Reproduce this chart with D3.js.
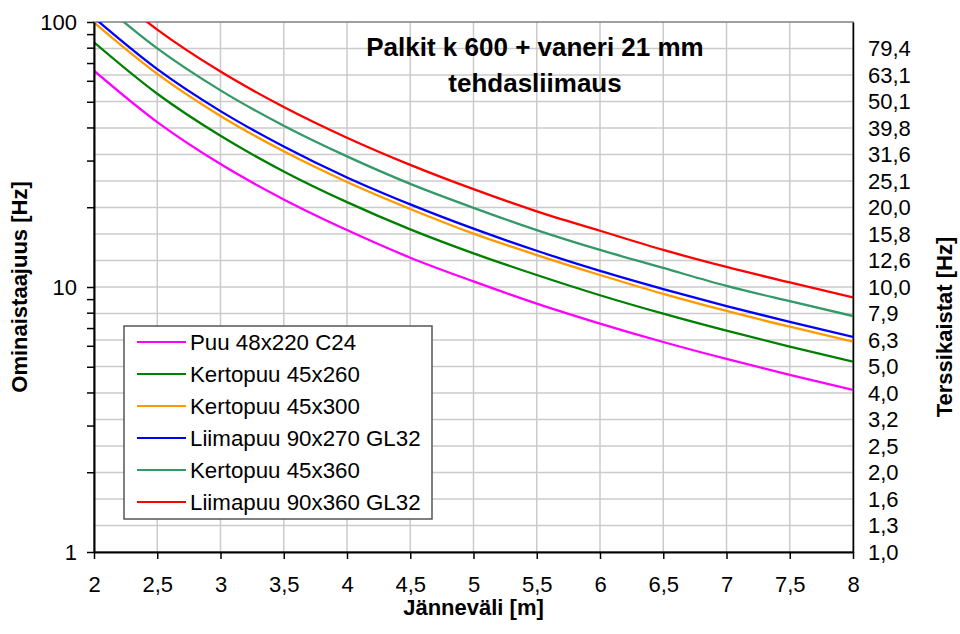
<!DOCTYPE html>
<html>
<head>
<meta charset="utf-8">
<script src="https://cdn.jsdelivr.net/npm/d3@7"></script>
<style>
  html, body { margin: 0; padding: 0; background: #fff; }
  svg { display: block; font-family: "Liberation Sans", Arial, sans-serif; }
</style>
</head>
<body>
<svg id="chart" width="960" height="634"></svg>
<script>
// Span (m) at which each frequency was read
const spans = [2, 2.5, 3, 3.5, 4, 4.5, 5, 5.5, 6, 6.5, 7, 7.5, 8];

// Natural frequencies (Hz) per beam type
const puu48x220 = [65.5, 41.9, 29.1, 21.4, 16.4, 12.9, 10.5, 8.66, 7.28, 6.20, 5.35, 4.66, 4.09];
const kerto45x260 = [83.8, 53.6, 37.2, 27.3, 20.9, 16.5, 13.4, 11.1, 9.31, 7.93, 6.84, 5.96, 5.23];
const kerto45x300 = [99.5, 63.7, 44.2, 32.5, 24.9, 19.7, 15.9, 13.2, 11.1, 9.42, 8.12, 7.08, 6.22];
const liima90x270 = [103.8, 66.4, 46.1, 33.9, 25.9, 20.5, 16.6, 13.7, 11.5, 9.82, 8.47, 7.38, 6.48];
const kerto45x360 = [124.3, 79.5, 55.2, 40.6, 31.1, 24.5, 19.9, 16.4, 13.8, 11.8, 10.1, 8.84, 7.77];
const liima90x360 = [146.3, 93.6, 65.0, 47.8, 36.6, 28.9, 23.4, 19.3, 16.3, 13.8, 11.9, 10.4, 9.14];

const seriesNames = ["Puu 48x220 C24", "Kertopuu 45x260", "Kertopuu 45x300",
                     "Liimapuu 90x270 GL32", "Kertopuu 45x360", "Liimapuu 90x360 GL32"];
const seriesValues = [puu48x220, kerto45x260, kerto45x300, liima90x270, kerto45x360, liima90x360];
const seriesColors = ["#ff00ff", "#008000", "#ff9900", "#0000ff", "#339966", "#ff0000"];

// Axis ticks
const xTicks = [2, 2.5, 3, 3.5, 4, 4.5, 5, 5.5, 6, 6.5, 7, 7.5, 8];
const xTickLabels = ["2", "2,5", "3", "3,5", "4", "4,5", "5", "5,5", "6", "6,5", "7", "7,5", "8"];
const leftTicks = [1, 2, 3, 4, 5, 6, 7, 8, 9, 10, 20, 30, 40, 50, 60, 70, 80, 90, 100];
const leftLabelled = [1, 10, 100];
// One-third octave band centre frequencies
const bandValues = [1.0, 1.259, 1.585, 1.995, 2.512, 3.162, 3.981, 5.012, 6.310, 7.943,
                    10.0, 12.59, 15.85, 19.95, 25.12, 31.62, 39.81, 50.12, 63.10, 79.43];
const bandLabels = ["1,0", "1,3", "1,6", "2,0", "2,5", "3,2", "4,0", "5,0", "6,3", "7,9",
                    "10,0", "12,6", "15,8", "20,0", "25,1", "31,6", "39,8", "50,1", "63,1", "79,4"];

const svg = d3.select("#chart");
const plotL = 94, plotR = 853, plotT = 22, plotB = 552;

const x = d3.scaleLinear().domain([2, 8]).range([plotL, plotR]);
const y = d3.scaleLog().domain([1, 100]).range([plotB, plotT]);

// Grid
const grid = svg.append("g").attr("stroke", "#cbcbcb").attr("stroke-width", 1.5);
grid.selectAll("line.h").data(bandValues.slice(1)).join("line").attr("class", "h")
  .attr("x1", plotL).attr("x2", plotR)
  .attr("y1", d => y(d)).attr("y2", d => y(d));
grid.selectAll("line.v").data(xTicks.slice(1, -1)).join("line").attr("class", "v")
  .attr("y1", plotT).attr("y2", plotB)
  .attr("x1", d => x(d)).attr("x2", d => x(d));

// Plot frame
svg.append("rect").attr("x", plotL).attr("y", plotT)
  .attr("width", plotR - plotL).attr("height", plotB - plotT)
  .attr("fill", "none").attr("stroke", "#808080").attr("stroke-width", 1.5);

// Curves
svg.append("clipPath").attr("id", "plotclip").append("rect")
  .attr("x", plotL).attr("y", plotT).attr("width", plotR - plotL).attr("height", plotB - plotT);

const line = d3.line()
  .x((d, i) => x(spans[i]))
  .y(d => y(d))
  .curve(d3.curveMonotoneX);

svg.append("g").attr("clip-path", "url(#plotclip)")
  .selectAll("path").data(seriesValues).join("path")
  .attr("d", d => line(d))
  .attr("fill", "none")
  .attr("stroke", (d, i) => seriesColors[i])
  .attr("stroke-width", 2.3);

// Axes
const tickFont = 22;
const xAxis = svg.append("g").attr("transform", `translate(0,${plotB})`)
  .call(d3.axisBottom(x).tickValues(xTicks).tickSize(7).tickSizeOuter(0)
    .tickFormat((d, i) => xTickLabels[i]));
xAxis.select(".domain").attr("stroke", "#000").attr("stroke-width", 2);
xAxis.selectAll(".tick line").attr("stroke", "#000").attr("stroke-width", 1.5);
xAxis.selectAll(".tick text").attr("font-size", tickFont).attr("font-family", "Liberation Sans, Arial")
  .attr("fill", "#000").attr("y", 40).attr("dy", 0);

const yAxis = svg.append("g").attr("transform", `translate(${plotL},0)`)
  .call(d3.axisLeft(y).tickValues(leftTicks).tickSize(7).tickSizeOuter(0)
    .tickFormat(d => leftLabelled.includes(d) ? String(d) : ""));
yAxis.select(".domain").attr("stroke", "#000").attr("stroke-width", 2);
yAxis.selectAll(".tick line").attr("stroke", "#000").attr("stroke-width", 1.5);
yAxis.selectAll(".tick text").attr("font-size", tickFont).attr("font-family", "Liberation Sans, Arial")
  .attr("fill", "#000").attr("x", -17);

const rAxis = svg.append("g").attr("transform", `translate(${plotR},0)`)
  .call(d3.axisRight(y).tickValues(bandValues).tickSize(0).tickPadding(15).tickSizeOuter(0)
    .tickFormat((d, i) => bandLabels[i]));
rAxis.select(".domain").attr("stroke", "#000").attr("stroke-width", 1.5);
rAxis.selectAll(".tick text").attr("font-size", tickFont).attr("font-family", "Liberation Sans, Arial")
  .attr("fill", "#000");

// Axis titles
svg.append("text").attr("x", (plotL + plotR) / 2).attr("y", 615)
  .attr("text-anchor", "middle").attr("font-size", 22).attr("font-weight", "bold")
  .text("Jänneväli [m]");
svg.append("text").attr("transform", `translate(27,${(plotT + plotB) / 2}) rotate(-90)`)
  .attr("text-anchor", "middle").attr("font-size", 22).attr("font-weight", "bold")
  .text("Ominaistaajuus [Hz]");
svg.append("text").attr("transform", `translate(952,327) rotate(-90)`)
  .attr("text-anchor", "middle").attr("font-size", 22).attr("font-weight", "bold")
  .text("Terssikaistat [Hz]");

// Chart title
const title = svg.append("text").attr("text-anchor", "middle")
  .attr("font-size", 26).attr("font-weight", "bold");
title.append("tspan").attr("x", 535).attr("y", 56).text("Palkit k 600 + vaneri 21 mm");
title.append("tspan").attr("x", 535).attr("y", 92).text("tehdasliimaus");

// Legend
const legend = svg.append("g");
legend.append("rect").attr("x", 124).attr("y", 326).attr("width", 308).attr("height", 193)
  .attr("fill", "#fff").attr("stroke", "#555").attr("stroke-width", 1.5);
const rows = legend.selectAll("g.row").data(seriesNames).join("g")
  .attr("transform", (d, i) => `translate(0,${342 + i * 32})`);
rows.append("line").attr("x1", 137).attr("x2", 186)
  .attr("stroke", (d, i) => seriesColors[i]).attr("stroke-width", 2);
rows.append("text").attr("x", 190).attr("dy", "0.36em")
  .attr("font-size", 22.3).text(d => d);
</script>
</body>
</html>
